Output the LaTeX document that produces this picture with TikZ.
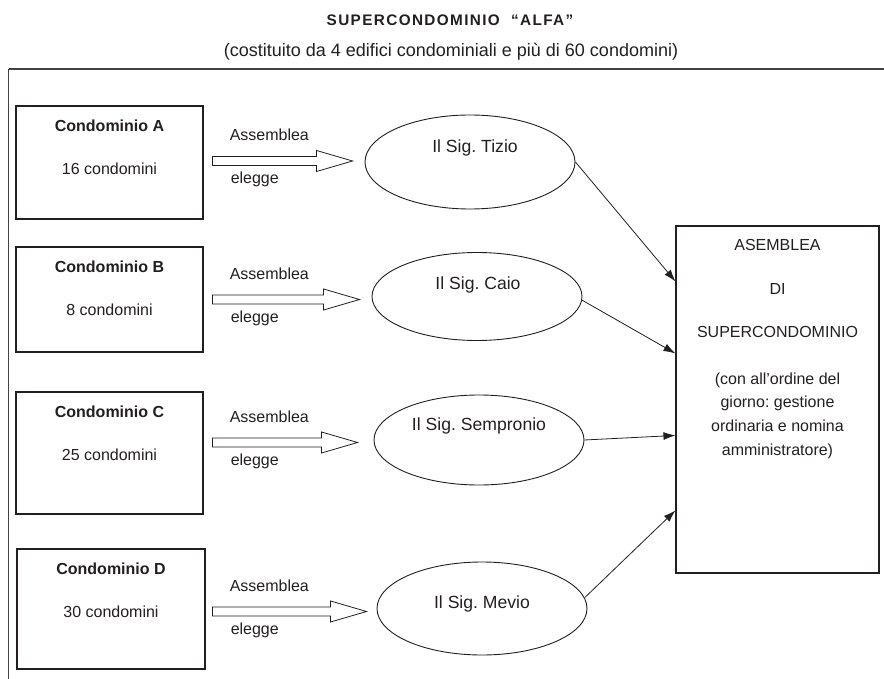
\documentclass[tikz,border=0pt]{standalone}
\usepackage{fontspec}
\setmainfont{Liberation Sans}
\usetikzlibrary{calc,shapes.geometric,arrows.meta}
\definecolor{ink}{HTML}{231F20}
\frenchspacing
\tikzset{
  txt/.style={inner sep=0pt, anchor=base, text=ink, font=\fontsize{16}{19}\selectfont},
  lbl/.style={inner sep=0pt, anchor=base west, text=ink, font=\fontsize{16}{19}\selectfont},
  otxt/.style={inner sep=0pt, anchor=base, text=ink, font=\fontsize{17.6}{21}\selectfont},
  cbox/.style={draw=ink, line width=1.1pt, minimum width=187pt, inner sep=0pt},
  oval/.style={ellipse, draw=ink, line width=0.9pt, minimum width=210pt, inner sep=0pt},
  feed/.style={draw=ink, line width=0.8pt, -{Latex[length=12pt,width=8pt]}},
  hollow/.style={draw=ink, line width=0.8pt, fill=white, line join=miter},
  frame/.style={draw=ink!85, line width=1pt},
}
\newcommand\hollowarrow[3]{%
  \coordinate (#3) at (#1 -| #2);
  \draw[hollow] ($(#1)+(0,-4.5)$) -- ($(#3)+(-36,-4.5)$) -- ($(#3)+(-36,-10.5)$)
    -- (#3) -- ($(#3)+(-36,10.5)$) -- ($(#3)+(-36,4.5)$) -- ($(#1)+(0,4.5)$) -- cycle;}
\begin{document}
\frenchspacing
\begin{tikzpicture}[x=1pt,y=-1pt]
\useasboundingbox (0,0) rectangle (884,679);
% titles
\node[txt, font=\fontsize{15.3}{18}\selectfont\bfseries\addfontfeature{LetterSpace=9}] (title) at (450,25.5) {SUPERCONDOMINIO\ \ “ALFA”};
\node[txt, font=\fontsize{18}{21}\selectfont] (subtitle) at (451,56.7) {(costituito da 4 edifici condominiali e più di 60 condomini)};
% frame
\coordinate (fbl) at (8.5,679);
\coordinate (ftl) at (8.5,69);
\coordinate (ftr) at (884,69);
\draw[frame] (fbl) -- (ftl);
\draw[frame, line width=1.5pt] (ftl) -- (ftr);

% condominium boxes
\node[cbox, minimum height=113pt] (A) at (109.5,162.5) {};
\node[cbox, minimum height=105pt] (B) at (109.5,299.5) {};
\node[cbox, minimum height=122pt] (C) at (109.5,453) {};
\node[cbox, minimum height=120pt, minimum width=188pt] (D) at (111,609) {};
\foreach \b/\n/\k in {A/A/16, B/B/8, C/C/25, D/D/30}{
  \node[txt, font=\fontsize{16}{19}\selectfont\bfseries] (\b h) at ($(\b.north)+(0,26)$) {Condominio \n};
  \node[txt] (\b n) at ($(\b.north)+(0,69)$) {\k\ condomini};
}

% representatives
\node[oval, minimum height=94pt] (Tizio) at (470,162) {};
\node[oval, minimum height=88pt] (Caio) at (477,296.5) {};
\node[oval, minimum height=90pt] (Sempronio) at (479,440) {};
\node[oval, minimum height=93pt] (Mevio) at (482,608.5) {};
\node[otxt] (Tiziot) at ($(Tizio)+(5,-9)$) {Il Sig. Tizio};
\node[otxt] (Caiot) at ($(Caio)+(1,-6.5)$) {Il Sig. Caio};
\node[otxt] (Sempront) at ($(Sempronio)+(0,-10)$) {Il Sig. Sempronio};
\node[otxt] (Meviot) at ($(Mevio)+(0,0)$) {Il Sig. Mevio};

% hollow arrows "Assemblea elegge"
\coordinate (sA) at ($(A.east)+(9,-1.5)$);
\coordinate (sB) at ($(B.east)+(9,0)$);
\coordinate (sC) at ($(C.east)+(9,-10.5)$);
\coordinate (sD) at ($(D.east)+(7,2.5)$);
\coordinate (eA) at ($(Tizio.west)+(-12,0)$);
\coordinate (eB) at ($(Caio.west)+(-12,0)$);
\coordinate (eC) at ($(Sempronio.west)+(-16,0)$);
\coordinate (eD) at ($(Mevio.west)+(-10,0)$);
\foreach \s/\e in {A/A, B/B, C/C, D/D}{
  \hollowarrow{s\s}{e\e}{t\s}
  \node[lbl] (as\s) at ($(s\s)+(17,-20)$) {Assemblea};
  \node[lbl] (el\s) at ($(s\s)+(18,23)$) {elegge};
}

% assembly box
\node[draw=ink, line width=1.1pt, minimum width=203pt, minimum height=347pt, inner sep=0pt] (R) at (777.5,399.5) {};
\node[txt] (r1) at ($(R.north)+(0,25)$) {ASEMBLEA};
\node[txt] (r2) at ($(R.north)+(0,69)$) {DI};
\node[txt] (r3) at ($(R.north)+(0,112)$) {SUPERCONDOMINIO};
\node[txt] (r4) at ($(R.north)+(0,159.5)$) {(con all’ordine del};
\node[txt] (r5) at ($(R.north)+(0,182.5)$) {giorno: gestione};
\node[txt] (r6) at ($(R.north)+(0,206.5)$) {ordinaria e nomina};
\node[txt] (r7) at ($(R.north)+(0,230.5)$) {amministratore)};

% connectors to the assembly
\draw[feed] (Tizio.east) -- ($(R.north west)+(0,56)$);
\draw[feed] (Caio.-2) -- ($(R.north west)+(0,128)$);
\draw[feed] (Sempronio.east) -- ($(R.north west)+(0,210)$);
\draw[feed] (Mevio.6) -- ($(R.north west)+(0,285)$);
\end{tikzpicture}
\end{document}
